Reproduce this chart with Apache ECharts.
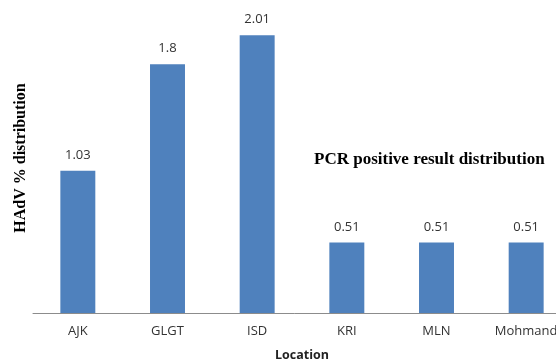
<!DOCTYPE html>
<html><head><meta charset="utf-8">
<script src="https://cdn.jsdelivr.net/npm/echarts@6/dist/echarts.min.js"></script>
<style>html,body{margin:0;padding:0;background:#fff}#c{width:556px;height:362px}</style>
</head><body><div id="c"></div>
<script>
const categories = ['AJK', 'GLGT', 'ISD', 'KRI', 'MLN', 'Mohmand'];
const values = [1.03, 1.8, 2.01, 0.51, 0.51, 0.51];
const xAxisTitle = 'Location';
const yAxisTitle = 'HAdV % distribution';
const chartLabel = 'PCR positive result distribution';

const chart = echarts.init(document.getElementById('c'), null, {renderer: 'canvas'});
chart.setOption({
  animation: false,
  backgroundColor: '#fff',
  grid: {left: 33, width: 538, top: 9, bottom: 49, containLabel: false, outerBoundsMode: 'none'},
  xAxis: {
    type: 'category', data: categories,
    axisLine: {show: true, lineStyle: {color: '#8c8c8c', width: 1}},
    axisTick: {show: false},
    axisLabel: {color: '#333', fontSize: 13, fontFamily: 'Open Sans', margin: 12, hideOverlap: false},
    name: xAxisTitle, nameLocation: 'middle', nameGap: 36,
    nameTextStyle: {fontWeight: 'bold', fontSize: 12.5, fontFamily: 'Open Sans', color: '#222'}
  },
  yAxis: {
    type: 'value', min: 0, max: 2.2,
    show: false
  },
  series: [{
    type: 'bar', data: values, barWidth: '39%',
    itemStyle: {color: '#4F81BD'},
    label: {show: true, position: 'top', distance: 9, color: '#333', fontSize: 13, fontFamily: 'Open Sans'}
  }],
  graphic: [
    {type: 'text', left: 314, top: 151, style: {text: chartLabel, font: 'bold 17px "Liberation Serif"', fill: '#000'}},
    {type: 'text', x: 21, y: 158, rotation: Math.PI / 2, style: {text: yAxisTitle, font: 'bold 16px "Liberation Serif"', fill: '#000', align: 'center', verticalAlign: 'middle'}}
  ]
});
</script></body></html>
